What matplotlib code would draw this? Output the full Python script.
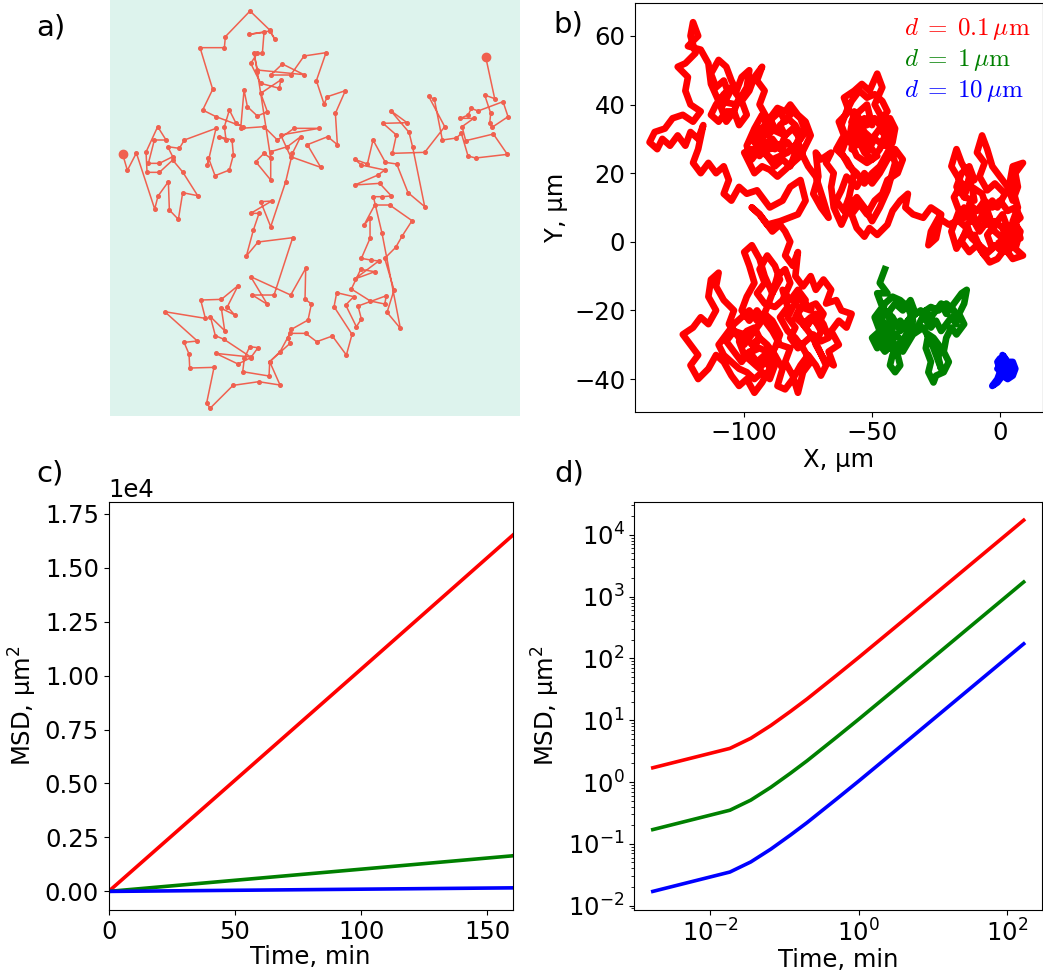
import matplotlib.pyplot as plt
import numpy as np

# ---- a) single 2D random walk (screen units, y grows downward)
walk_a = [
    (368, 463), (382, 511), (409, 459), (464, 627), (474, 588), (505, 545), (508, 630), (535, 658),
    (548, 578), (593, 587), (548, 516), (518, 480), (478, 517), (441, 517), (438, 456), (473, 380),
    (498, 420), (463, 420), (445, 490), (478, 490), (518, 470), (503, 440), (538, 445), (553, 420),
    (648, 385), (622, 495), (625, 473), (645, 527), (688, 510), (700, 465), (696, 420), (658, 410),
    (678, 420), (673, 380), (688, 330), (708, 370), (728, 380), (648, 350), (608, 330), (638, 268),
    (600, 143), (673, 143), (676, 110), (750, 33), (809, 90), (824, 117), (809, 93), (747, 103),
    (792, 97), (787, 160), (772, 160), (752, 190), (782, 250), (838, 265), (842, 240), (782, 280),
    (802, 335), (772, 348), (742, 320), (732, 270), (722, 385), (792, 380), (832, 420), (882, 385),
    (957, 385), (842, 405), (872, 470), (962, 502), (922, 434), (983, 410), (1012, 434), (1006, 340),
    (1036, 272), (982, 290), (972, 312), (949, 242), (978, 158), (912, 168), (872, 225), (812, 225),
    (847, 192), (912, 224), (772, 210), (762, 160), (772, 215), (812, 475), (792, 460), (767, 485),
    (812, 540), (812, 455), (862, 440), (902, 410), (877, 460), (857, 545), (812, 680), (782, 605),
    (815, 603), (752, 640), (777, 640), (760, 690), (739, 768), (774, 726), (878, 713), (822, 885),
    (757, 885), (802, 913), (752, 830), (872, 885), (917, 805), (915, 897), (934, 912), (924, 960),
    (874, 988), (864, 1013), (870, 1030), (809, 1085), (807, 1128), (728, 1115), (733, 1075),
    (749, 1040), (774, 1043), (752, 1073), (714, 1092), (647, 1060), (752, 1071), (672, 1018),
    (646, 1007), (631, 950), (674, 992), (664, 925), (704, 945), (682, 920), (714, 857), (664, 898),
    (602, 900), (616, 955), (494, 935), (592, 1023), (552, 1027), (567, 1062), (569, 1104),
    (642, 1102), (620, 1208), (630, 1225), (699, 1156), (776, 1145), (840, 1155), (809, 1085),
    (840, 1055), (870, 1000), (917, 1000), (950, 1025), (997, 1008), (1039, 1065), (1056, 1003),
    (1002, 920), (1010, 878), (1061, 890), (1037, 915), (1069, 980), (1084, 957), (1074, 918),
    (1159, 887), (1154, 912), (1111, 903), (1054, 867), (1082, 808), (1124, 815), (1064, 837),
    (1136, 783), (1112, 780), (1084, 775), (1110, 715), (1110, 655), (1092, 675), (1124, 615),
    (1169, 615), (1236, 662), (1207, 707), (1187, 742), (1154, 775), (1182, 870), (1161, 937),
    (1201, 985), (1146, 700), (1120, 590), (1146, 590), (1174, 588), (1139, 550), (1064, 555),
    (1134, 525), (1154, 510), (1084, 495), (1064, 478), (1102, 492), (1119, 420), (1156, 487),
    (1190, 492), (1224, 578), (1274, 620), (1238, 442), (1227, 397), (1172, 332), (1221, 368),
    (1149, 370), (1189, 405), (1177, 460), (1274, 457), (1334, 380), (1286, 289), (1303, 298),
    (1327, 420), (1369, 414), (1384, 400), (1404, 468), (1427, 474), (1522, 463), (1480, 402),
    (1397, 422), (1386, 380), (1421, 355), (1381, 355), (1404, 345), (1414, 325), (1434, 333),
    (1509, 305), (1524, 350), (1476, 382), (1469, 370), (1472, 340), (1454, 285), (1484, 296),
    (1457, 171),
]

# ---- b) trajectories for three particle sizes, um
red_path = [
    (0, 0), (3, -3), (6, 0), (4, 3), (8, 1), (6, 6), (3, 4), (1, 8), (-2, 5), (-5, 2), (-3, -2),
    (-6, -4), (-9, -1), (-12, -3), (-15, 0), (-13, 4), (-16, 6), (-12, 8), (-9, 5), (-6, 9),
    (-3, 12), (-1, 10), (2, 14), (-2, 17), (-5, 15), (-8, 19), (-6, 23), (-9, 26), (-7, 31),
    (-5, 27), (-3, 22), (0, 19), (3, 16), (5, 12), (7, 16), (6, 20), (9, 23), (5, 22), (4, 18),
    (7, 10), (5, 6), (8, 3), (6, -2), (9, -4), (5, -5), (2, -2), (-1, -5), (-4, -6), (-7, -3),
    (-10, 2), (-14, 2), (-17, -2), (-19, 3), (-16, 9), (-18, 13), (-15, 17), (-19, 22), (-17, 27),
    (-15, 23), (-12, 19), (-14, 13),
    (-17, 16), (-15, 20), (-12, 22), (-10, 18), (-13, 17), (-14, 13),
    (-10, 12), (-11, 16), (-7, 14), (-4, 7),
    (-2, 3), (1, 1), (4, -1), (7, 2), (5, 5), (8, 7), (6, 10), (3, 9), (0, 12), (-3, 10), (-6, 12),
    (-9, 9), (-12, 11), (-10, 7), (-13, 5), (-11, 1), (-8, -1), (-5, -3), (-2, -1), (1, -3), (3, 0),
    (1, 4), (-2, 6), (-5, 5), (-7, 8), (-4, 7),
    (-8, 3), (-11, 7),
    (-14, 10), (-17, 6), (-20, 5), (-24, 7), (-27, 3), (-28, -1), (-25, 1), (-23, 8), (-27, 10),
    (-30, 7), (-34, 8), (-37, 10), (-36, 14), (-39, 12),
    (-42, 9), (-44, 5), (-48, 2), (-51, 4), (-53, 1.5), (-56, 4), (-58, 8), (-55, 11), (-52, 8),
    (-49, 12), (-46, 14), (-44, 18), (-40, 20), (-38, 24), (-41, 27), (-44, 24), (-47, 20),
    (-50, 17), (-53, 20), (-56, 16), (-60, 19), (-62, 15), (-64, 12), (-61, 9), (-59, 13),
    (-57, 20), (-60, 24), (-64, 27), (-61, 31), (-63, 35), (-59, 38), (-61, 42), (-57, 44),
    (-54, 46), (-51, 44), (-48, 49), (-46, 45), (-49, 40), (-46, 36), (-43, 32), (-45, 28),
    (-49, 30), (-52, 26), (-55, 29),
    (-53, 26), (-50, 24), (-47, 27), (-45, 31), (-47, 35), (-44, 38), (-46, 41), (-49, 43),
    (-52, 42), (-55, 44), (-58, 41), (-60, 38), (-62, 34), (-60, 30), (-62, 26), (-59, 22),
    (-56, 20), (-53, 17), (-50, 20), (-47, 22), (-44, 26), (-42, 29), (-41, 33), (-43, 36),
    (-46, 33), (-49, 36), (-52, 34), (-55, 36), (-58, 32), (-55, 29),
    (-58, 27), (-56, 33), (-53, 36), (-50, 34), (-52, 40),
    (-55, 38), (-58, 35), (-55, 31), (-51, 28), (-48, 25), (-52, 23), (-56, 25), (-59, 30),
    (-57, 38), (-53, 32), (-50, 30), (-47, 33), (-44, 30), (-41, 23), (-44, 15), (-47, 10),
    (-50, 6), (-53, 10), (-56, 13), (-59, 10), (-62, 5), (-65, 10), (-66, 16), (-65, 20),
    (-68, 23), (-66, 26),
    (-70, 24), (-72, 26), (-71, 19), (-73, 14), (-70, 10), (-67, 7), (-69, 12), (-72, 19),
    (-75, 22), (-77, 25),
    (-79, 29), (-76, 32), (-78, 36), (-81, 38), (-84, 35), (-86, 38), (-89, 36), (-92, 34),
    (-95, 31), (-92, 28), (-89, 30), (-86, 27), (-83, 29), (-80, 26), (-82, 22), (-85, 24),
    (-88, 22), (-91, 25), (-94, 27), (-97, 24), (-99, 28), (-96, 33), (-93, 37), (-90, 33),
    (-87, 32), (-84, 31),
    (-86, 34), (-83, 36), (-80, 34), (-78, 31), (-80, 28), (-83, 26), (-86, 25), (-89, 24),
    (-92, 26), (-95, 28), (-97, 30), (-94, 33), (-91, 31), (-88, 33), (-90, 36), (-87, 39),
    (-84, 38), (-82, 40), (-79, 37), (-76, 35), (-74, 31), (-76, 28), (-78, 25), (-81, 23),
    (-84, 21), (-87, 19), (-90, 21), (-93, 22), (-96, 20), (-98, 23), (-100, 26), (-97, 27),
    (-94, 25), (-91, 28), (-88, 27), (-85, 29), (-84, 31),
    (-81, 33), (-78, 30), (-81, 27), (-84, 26), (-87, 28), (-90, 27),
    (-93, 30), (-91, 36), (-94, 40), (-92, 44), (-95, 47), (-93, 51), (-96, 48), (-98, 44),
    (-101, 41), (-99, 37), (-102, 34), (-104, 38),
    (-102, 42), (-105, 45), (-108, 43), (-111, 40), (-113, 37), (-110, 35), (-107, 38), (-104, 38),
    (-107, 35), (-109, 39), (-106, 43),
    (-108, 47), (-111, 45), (-113, 49), (-110, 53), (-107, 51), (-105, 47), (-103, 44),
    (-101, 48), (-98, 50), (-99, 45), (-103, 40), (-110, 41), (-113, 46), (-114, 52),
    (-117, 56), (-122, 57), (-118, 60), (-120, 64), (-121, 60), (-119, 55), (-123, 52),
    (-126, 51), (-122, 48), (-123, 44), (-121, 40), (-117, 38), (-120, 35), (-124, 37),
    (-128, 36), (-131, 33), (-135, 32), (-137, 29), (-134, 27), (-132, 30), (-129, 28),
    (-126, 31), (-123, 28), (-121, 32), (-118, 30), (-116, 34), (-118, 27), (-120, 23),
    (-117, 20), (-114, 23), (-111, 20), (-108, 22), (-106, 18), (-108, 14), (-105, 12),
    (-102, 16), (-99, 14), (-95, 15), (-90, 10), (-85, 12), (-82, 16), (-78, 18), (-76, 12),
    (-79, 8), (-86, 6), (-91, 5), (-94, 8), (-97, 10), (-94, 8), (-89, 3), (-86, 5), (-84, 3),
    (-82, 0), (-84, -4), (-81, -7), (-79, -3), (-80, -10), (-77, -13),
    (-74, -10), (-72, -14), (-69, -11), (-66, -14), (-68, -18), (-64, -17), (-62, -20),
    (-58, -21), (-60, -25), (-63, -23), (-66, -26), (-63, -30), (-67, -32), (-65, -36),
    (-69, -34), (-72, -30), (-70, -26), (-73, -22), (-76, -25), (-79, -21), (-76, -17),
    (-79, -14), (-82, -17), (-85, -14), (-83, -19), (-86, -22), (-83, -26), (-80, -28),
    (-77, -31), (-74, -35), (-77, -38), (-79, -44), (-81, -39), (-84, -35), (-82, -31),
    (-86, -30), (-89, -26), (-92, -23), (-95, -20), (-98, -23), (-101, -20), (-99, -16),
    (-96, -12), (-98, -7), (-100, -3), (-97, -1), (-94, -5), (-92, -10), (-89, -15),
    (-86, -11), (-88, -7), (-91, -4), (-94, -8), (-92, -12), (-95, -15), (-92, -18), (-88, -19),
    (-85, -17), (-82, -12), (-84, -8), (-87, -10), (-89, -15),
    (-91, -19), (-94, -24), (-97, -27), (-100, -30), (-103, -27), (-106, -24), (-104, -20), (-108, -17),
    (-111, -13), (-110, -9), (-113, -11), (-114, -16), (-111, -20), (-114, -24), (-117, -22),
    (-120, -25), (-124, -27), (-121, -30), (-118, -33), (-121, -36), (-118, -40), (-114, -37),
    (-111, -33), (-108, -35), (-105, -39), (-102, -42), (-99, -40), (-96, -44), (-93, -41),
    (-90, -37), (-92, -33), (-95, -35), (-98, -32), (-101, -35), (-104, -32), (-107, -29),
    (-104, -26), (-100, -27), (-97, -30), (-94, -28),
    (-96, -25), (-99, -26), (-102, -29), (-100, -33), (-97, -35), (-94, -37), (-91, -34),
    (-88, -31), (-86, -27), (-89, -23), (-92, -21), (-95, -23), (-98, -20), (-101, -22),
    (-104, -24), (-107, -27), (-110, -30), (-108, -33), (-105, -35), (-102, -37), (-99, -38),
    (-96, -40), (-93, -38), (-90, -40), (-88, -36), (-91, -32), (-94, -31), (-97, -32), (-94, -28),
    (-91, -30), (-88, -33), (-85, -37),
    (-87, -42), (-84, -43), (-81, -40), (-78, -36), (-75, -33), (-72, -36), (-70, -39),
    (-68, -36), (-71, -31), (-74, -27), (-77, -24),
    (-74, -22), (-71, -24), (-69, -21), (-72, -18), (-75, -19), (-78, -16), (-81, -19),
    (-83, -22), (-80, -25), (-82, -28), (-79, -31), (-76, -29), (-73, -27), (-70, -29),
    (-67, -28), (-69, -24), (-72, -21), (-75, -24), (-77, -24),
    (-80, -22), (-78, -19), (-74, -20),
]
green_path = [
    (-45, -8), (-47, -12), (-44, -15), (-48, -15), (-46, -19), (-49, -22), (-47, -26), (-50, -28),
    (-48, -31), (-45, -28), (-43, -31), (-41, -27),
    (-44, -25), (-47, -22), (-45, -18), (-42, -16), (-39, -17), (-36, -19), (-34, -23), (-36, -27),
    (-39, -30), (-42, -30), (-45, -32), (-48, -29), (-46, -26), (-43, -28), (-41, -27),
    (-38, -29), (-36, -26), (-39, -23), (-42, -25),
    (-44, -21), (-41, -18), (-38, -20), (-35, -17), (-33, -21), (-36, -23), (-33, -26), (-31, -23),
    (-29, -20),
    (-27, -25), (-25, -23), (-23, -26), (-21, -24), (-19, -22), (-17, -24), (-18, -20), (-21, -18),
    (-24, -20), (-27, -19), (-29, -20),
    (-27, -22), (-25, -20), (-23, -18), (-21, -21), (-19, -19), (-17, -17), (-15, -15),
    (-13, -14), (-14, -18), (-16, -21), (-14, -24), (-17, -27), (-19, -25), (-21, -28), (-22, -32),
    (-20, -35), (-22, -38), (-25, -39), (-26, -41), (-28, -38), (-27, -35), (-29, -31), (-28, -27),
    (-26, -28), (-24, -30), (-24, -34), (-23, -37), (-25, -33), (-27, -29), (-30, -25), (-34, -27),
    (-38, -32), (-40, -30), (-42, -33), (-43, -36), (-41, -38), (-39, -36), (-40, -33), (-44, -30),
    (-47, -24), (-45, -20), (-42, -22), (-39, -26), (-35, -22), (-31, -20), (-28, -24),
]
blue_path = [
    (0, -36), (2, -34), (1, -33), (3, -35), (5, -35), (6, -37), (5, -39), (3, -40), (1, -39),
    (-1, -41), (-3, -42), (-1, -40), (0, -38), (1, -36), (3, -37), (4, -38), (2, -38), (0, -37),
    (-1, -35), (0, -34), (2, -36), (2, -38), (4, -36), (5, -37), (3, -39), (1, -38), (-1, -37),
    (1, -36),
]

# ---- c), d) mean squared displacement, um^2
t_min = [0.00167, 0.0183, 0.035, 0.065, 0.12, 0.2, 0.5, 1, 2, 5, 10, 20, 50, 100, 160, 167]
msd_red = [1.7, 3.5, 5.1, 8.2, 13.9, 22, 53, 104, 207, 515, 1030, 2060, 5150, 10300, 16500, 17200]
msd_green = [0.17, 0.35, 0.51, 0.82, 1.39, 2.2, 5.3, 10.4, 20.7, 51.5, 103, 206, 515, 1030, 1650, 1720]
msd_blue = [0.017, 0.035, 0.051, 0.082, 0.139, 0.22, 0.53, 1.04, 2.07, 5.15, 10.3, 20.6, 51.5, 103, 165, 172]

labels = [r'$d\;=\;0.1\,\mu\mathrm{m}$', r'$d\;=\;1\,\mu\mathrm{m}$', r'$d\;=\;10\,\mu\mathrm{m}$']
colors = ['red', 'green', 'blue']

FS = 17.5
plt.rcParams['font.family'] = 'DejaVu Sans'
plt.rcParams['font.size'] = FS

fig = plt.figure(figsize=(10.43, 9.75), dpi=100)

# a)
ax_a = fig.add_axes([0.1055, 0.5733, 0.3931, 0.4267])
wx, wy = zip(*walk_a)
ax_a.plot(wx, wy, '-o', color='#f0604f', lw=1.1, ms=2.6)
ax_a.plot([wx[0], wx[-1]], [wy[0], wy[-1]], 'o', color='#f0604f', ms=6)
ax_a.set_xlim(330, 1560)
ax_a.set_ylim(1248, 0)
ax_a.set_facecolor('#ddf3ed')
ax_a.set_xticks([])
ax_a.set_yticks([])
for s in ax_a.spines.values():
    s.set_visible(False)

# b)
ax_b = fig.add_axes([0.6088, 0.5778, 0.3909, 0.4188])
for path, c, lab in zip([red_path, green_path, blue_path], colors, labels):
    px, py = zip(*path)
    ax_b.plot(px, py, color=c, lw=4.8, label=lab, solid_joinstyle='round')
ax_b.set_xlim(-142.7, 16.7)
ax_b.set_ylim(-49.5, 69.5)
ax_b.set_xlabel('X, µm', labelpad=2)
ax_b.set_ylabel('Y, µm')
ax_b.legend(loc='upper right', frameon=False, handlelength=0, handletextpad=0,
            labelcolor='linecolor', prop={'size': 18, 'math_fontfamily': 'cm'},
            borderaxespad=0.1, labelspacing=0.2)

# c)
ax_c = fig.add_axes([0.1042, 0.0667, 0.3873, 0.4188])
for m, c in zip([msd_red, msd_green, msd_blue], colors):
    ax_c.plot(t_min, m, color=c, lw=2.6)
ax_c.set_xlim(0, 160)
ax_c.set_xlabel('Time, min', labelpad=1)
ax_c.set_ylabel(r'MSD, µm$^2$')
ax_c.ticklabel_format(axis='y', style='sci', scilimits=(0, 0))

# d)
ax_d = fig.add_axes([0.6081, 0.0667, 0.3912, 0.4188])
for m, c in zip([msd_red, msd_green, msd_blue], colors):
    ax_d.loglog(t_min, m, color=c, lw=2.6)
ax_d.set_xlabel('Time, min', labelpad=1)
ax_d.set_ylabel(r'MSD, µm$^2$')

for txt, x, y in [('a)', 0.049, 0.972), ('b)', 0.545, 0.975), ('c)', 0.048, 0.514), ('d)', 0.546, 0.514)]:
    fig.text(x, y, txt, fontsize=21, ha='center', va='center')

fig.savefig('out.png', dpi=100)
